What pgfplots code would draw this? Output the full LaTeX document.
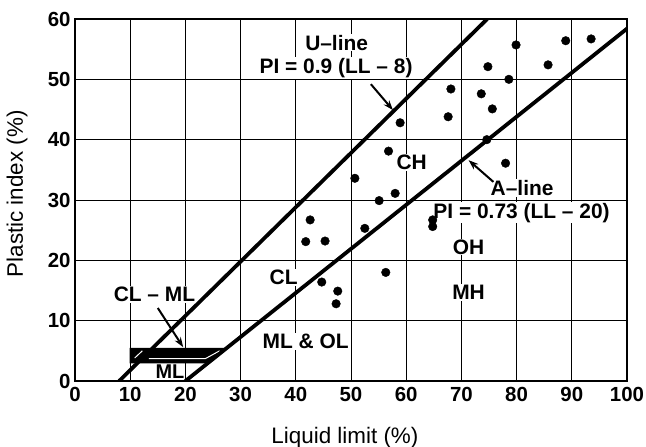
\documentclass[border=0pt]{standalone}
\usepackage{fontspec}
\setmainfont{Liberation Sans}
\usepackage{pgfplots}
\pgfplotsset{compat=1.18}
\usetikzlibrary{arrows.meta}
\tikzset{lbl/.style={font=\fontsize{21}{21}\selectfont\bfseries, fill=white, inner sep=1pt}}
\begin{document}
\begin{tikzpicture}
\path[use as bounding box] (-75bp,-66bp) rectangle (571bp,381bp);
\begin{axis}[
    width=552bp, height=362bp, scale only axis,
    xmin=0, xmax=100, ymin=0, ymax=60,
    xtick={0,10,...,100}, ytick={0,10,...,60},
    grid=major,
    major grid style={black, line width=0.8pt},
    axis line style={black, line width=2.8pt},
    tick style={black, line width=0.8pt},
    major tick length=3bp,
    tick label style={font=\fontsize{20.5}{20.5}\selectfont\bfseries},
    xticklabel style={yshift=-3bp},
    yticklabel style={xshift=-1bp},
    /pgf/number format/assume math mode=true,
    xlabel={Liquid limit (\%)},
    ylabel={Plastic index (\%)},
    label style={font=\fontsize{22.5}{22.5}\selectfont},
    xlabel style={at={(axis description cs:0.489,-0.157)}, anchor=center},
    ylabel style={at={(axis description cs:-0.105,0.517)}, anchor=center},
]
% CL-ML band
\addplot[fill=black, draw=black, line width=1pt] coordinates {(10,3.0) (10,5.4) (27.4,5.4) (24.1,3.0)} -- cycle;
\addplot[white, line width=1pt] coordinates {(13.4,3.7) (23.6,3.7) (26.2,5.0)};
\addplot[white, line width=1pt] coordinates {(10.8,3.8) (12.2,5.0)};
% labels
\node[lbl] at (axis cs:47.4,56.1) {U–line};
\node[lbl] at (axis cs:47.3,51.9) {PI = 0.9 (LL – 8)};
\node[lbl] at (axis cs:61,36.2) {CH};
\node[lbl] at (axis cs:81,32.0) {A–line};
\node[lbl] at (axis cs:80.9,27.9) {PI = 0.73 (LL – 20)};
\node[lbl] at (axis cs:71.3,22.2) {OH};
\node[lbl] at (axis cs:71.3,14.7) {MH};
\node[lbl] at (axis cs:37.8,17.2) {CL};
\node[lbl] at (axis cs:41.8,6.5) {ML \& OL};
\node[lbl] at (axis cs:14.4,14.4) {CL – ML};
% U-line and A-line
\addplot[black, line width=3.8pt] coordinates {(8,0) (74.67,60)};
\addplot[black, line width=3.8pt] coordinates {(20,0) (100,58.4)};
\node[font=\fontsize{20}{20}\selectfont\bfseries, inner sep=0pt] at (axis cs:17.2,1.5) {ML};
% arrows
\draw[-{Stealth[length=10bp,width=7bp]}, line width=2pt] (axis cs:53.6,49.2) -- (axis cs:57.6,44.9);
\draw[-{Stealth[length=10bp,width=7bp]}, line width=2pt] (axis cs:75.8,33.0) -- (axis cs:71.3,36.6);
\draw[-{Stealth[length=10bp,width=7bp]}, line width=2pt] (axis cs:15.0,12.1) -- (axis cs:19.6,5.6);
% data points
\addplot[only marks, mark=*, mark size=4.3bp, black] coordinates {
(41.8,23.1) (42.6,26.7) (45.3,23.2) (44.7,16.4) (47.6,14.9) (47.3,12.8)
(50.7,33.6) (52.5,25.3) (55.1,29.9) (56.3,18.0) (56.8,38.1) (58.0,31.1)
(58.9,42.8) (64.8,26.7) (64.8,25.6) (67.6,43.8) (68.1,48.4) (73.6,47.6)
(74.6,40.0) (74.8,52.1) (75.6,45.1) (78.0,36.1) (78.6,50.0) (79.9,55.7)
(85.7,52.4) (88.9,56.4) (93.5,56.7)
};
\end{axis}
\end{tikzpicture}
\end{document}
